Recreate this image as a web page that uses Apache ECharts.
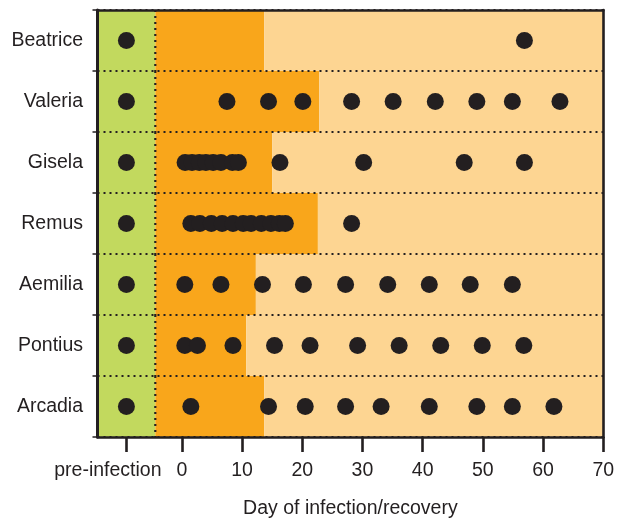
<!DOCTYPE html>
<html>
<head>
<meta charset="utf-8">
<script src="https://cdn.jsdelivr.net/npm/echarts@6/dist/echarts.min.js"></script>
<style>html,body{margin:0;padding:0;background:#fff}#c{width:617px;height:519px}</style>
</head>
<body>
<div id="c"></div>
<script>
const categories = ['Beatrice', 'Valeria', 'Gisela', 'Remus', 'Aemilia', 'Pontius', 'Arcadia'];
const AXIS_MIN = -14;
const AXIS_MAX = 70;
const PRE_INFECTION = -9.2;
const PRE_END = -4.4;
const infectionEnd = [13.7, 22.8, 15.0, 22.6, 12.3, 10.7, 13.7];

const beatriceDays = [56.9];
const valeriaDays = [7.5, 14.4, 20.1, 28.2, 35.1, 42.1, 49.0, 54.9, 62.8];
const giselaDays = [0.55, 1.7, 2.9, 4.0, 5.2, 6.5, 8.4, 9.4, 16.3, 30.2, 46.9, 56.9];
const remusDays = [1.5, 3.0, 4.9, 6.7, 8.5, 10.2, 11.5, 13.2, 14.8, 16.2, 17.2, 28.2];
const aemiliaDays = [0.5, 6.5, 13.4, 20.2, 27.2, 34.2, 41.1, 47.9, 54.9];
const pontiusDays = [0.5, 2.6, 8.5, 15.4, 21.3, 29.2, 36.1, 43.0, 49.9, 56.8];
const arcadiaDays = [1.5, 14.4, 20.5, 27.2, 33.1, 41.1, 49.0, 54.9, 61.8];
const daysByRow = [beatriceDays, valeriaDays, giselaDays, remusDays, aemiliaDays, pontiusDays, arcadiaDays];

const xTickValues = [0, 10, 20, 30, 40, 50, 60, 70];
const preTickValues = [PRE_INFECTION];
const preLabel = 'pre-infection';
const xAxisTitle = 'Day of infection/recovery';

const INK = '#231f20';
const GREEN = '#c2d95e';
const ORANGE = '#f9a61b';
const LIGHT = '#fdd592';
const FONT = '"Liberation Sans", Arial, Helvetica, sans-serif';

const scatterData = [];
categories.forEach((name, i) => {
  scatterData.push([PRE_INFECTION, name]);
  daysByRow[i].forEach(d => scatterData.push([d, name]));
});
const bandData = categories.map((name, i) => [i, infectionEnd[i]]);

const chart = echarts.init(document.getElementById('c'), null, {renderer: 'canvas'});
chart.setOption({
  animation: false,
  backgroundColor: '#fff',
  grid: {left: 97.5, right: 13.7, top: 10, bottom: 82, outerBoundsMode: 'none', containLabel: false},
  xAxis: [{
    type: 'value', min: AXIS_MIN, max: AXIS_MAX, position: 'bottom',
    axisLine: {show: true, onZero: false, lineStyle: {color: INK, width: 2.6}},
    axisTick: {show: true, customValues: xTickValues, length: 15, lineStyle: {color: INK, width: 2.6}},
    axisLabel: {
      show: true, customValues: xTickValues, margin: 24, color: INK, fontSize: 19.5, fontFamily: FONT,
      showMinLabel: true, showMaxLabel: true, hideOverlap: false
    },
    splitLine: {show: false},
    name: xAxisTitle, nameLocation: 'middle', nameGap: 62,
    nameTextStyle: {color: INK, fontSize: 19.5, fontFamily: FONT}
  }, {
    type: 'value', min: AXIS_MIN, max: AXIS_MAX, position: 'bottom',
    axisLine: {show: false, onZero: false},
    axisTick: {show: true, customValues: preTickValues, length: 15, lineStyle: {color: INK, width: 2.6}},
    axisLabel: {
      show: true, customValues: preTickValues, margin: 24, color: INK, fontSize: 19.5, fontFamily: FONT,
      showMinLabel: true, showMaxLabel: true, padding: [0, 37, 0, 0],
      formatter: () => preLabel
    },
    splitLine: {show: false}
  }, {
    type: 'value', min: AXIS_MIN, max: AXIS_MAX, position: 'top',
    axisLine: {show: true, onZero: false, lineStyle: {color: INK, width: 2.6}},
    axisTick: {show: false}, axisLabel: {show: false}, splitLine: {show: false}
  }],
  yAxis: [{
    type: 'category', data: categories, inverse: true, position: 'left',
    axisLine: {show: true, onZero: false, lineStyle: {color: INK, width: 3}},
    axisTick: {show: true, length: 5, lineStyle: {color: INK, width: 1.5}},
    axisLabel: {margin: 14.5, color: INK, fontSize: 19.5, fontFamily: FONT},
    splitLine: {show: true, lineStyle: {color: INK, width: 2.2, type: [2, 4]}}
  }, {
    type: 'category', data: categories, inverse: true, position: 'right',
    axisLine: {show: true, onZero: false, lineStyle: {color: INK, width: 2.6}},
    axisTick: {show: false}, axisLabel: {show: false}, splitLine: {show: false}
  }],
  series: [{
    type: 'custom',
    z: -10,
    silent: true,
    data: bandData,
    encode: {x: 1, y: 0},
    renderItem: function (params, api) {
      const row = api.value(0);
      const end = api.value(1);
      const name = categories[row];
      const h = api.size([0, 1])[1];
      const cy = api.coord([0, name])[1];
      const y0 = cy - h / 2;
      const xa = api.coord([AXIS_MIN, name])[0];
      const xp = api.coord([PRE_END, name])[0];
      const xe = api.coord([end, name])[0];
      const xb = api.coord([AXIS_MAX, name])[0];
      return {
        type: 'group',
        children: [
          {type: 'rect', shape: {x: xa, y: y0, width: xp - xa, height: h}, style: {fill: GREEN}},
          {type: 'rect', shape: {x: xp, y: y0, width: xe - xp, height: h}, style: {fill: ORANGE}},
          {type: 'rect', shape: {x: xe, y: y0, width: xb - xe, height: h}, style: {fill: LIGHT}},
          {type: 'line', shape: {x1: xp, y1: y0, x2: xp, y2: y0 + h},
            style: {stroke: INK, lineWidth: 2.2, lineDash: [2, 4]}}
        ]
      };
    }
  }, {
    type: 'scatter',
    z: 5,
    symbol: 'circle',
    symbolSize: 17,
    itemStyle: {color: INK, opacity: 1},
    data: scatterData
  }]
});
</script>
</body>
</html>
